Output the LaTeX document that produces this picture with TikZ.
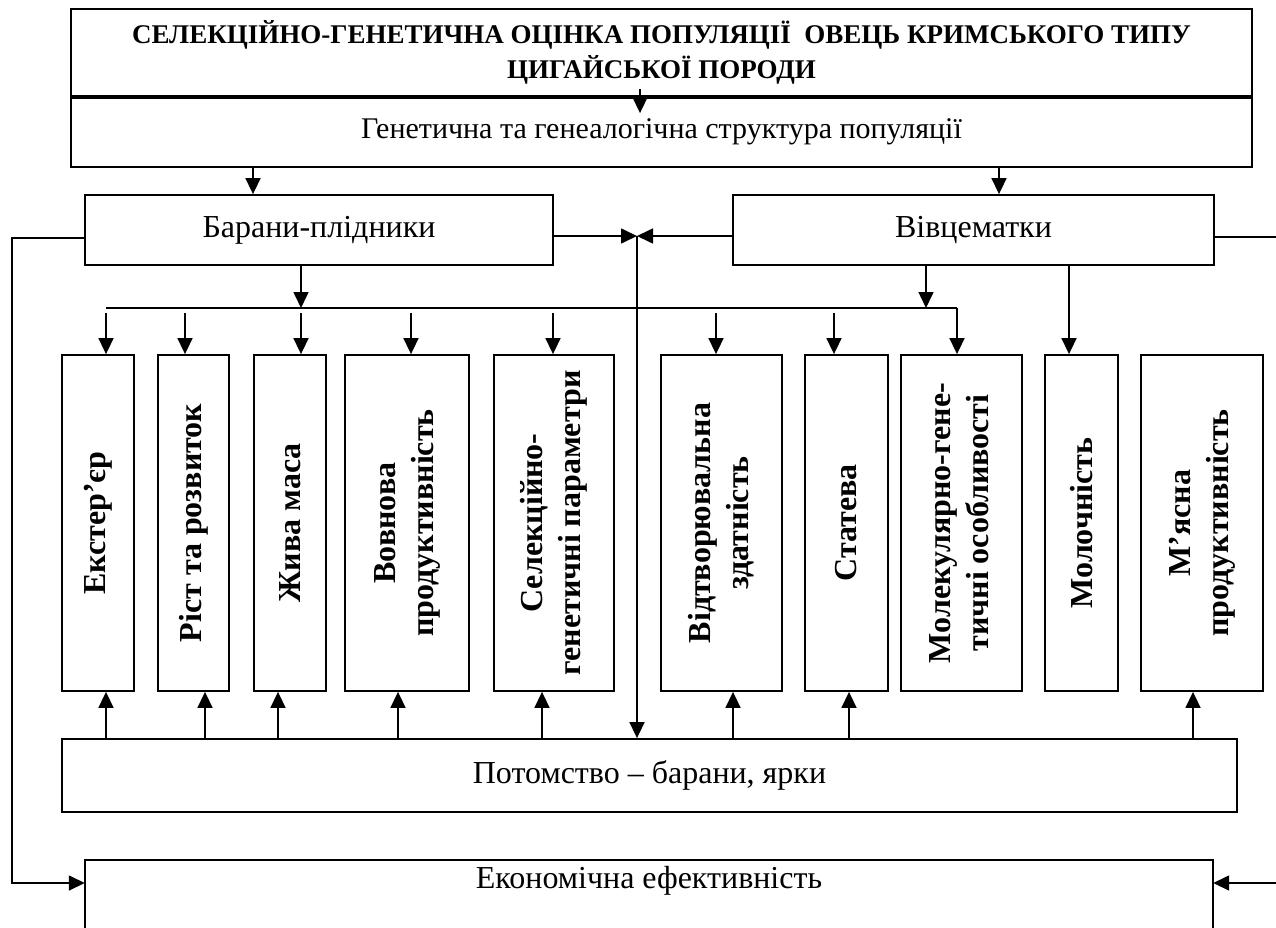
\documentclass[tikz,border=0pt]{standalone}
\usepackage{fontspec}
\setmainfont{Liberation Serif}
\usetikzlibrary{arrows.meta,calc}
\begin{document}
\begin{tikzpicture}[x=1pt,y=-1pt,
  box/.style={draw, line width=1.8pt, inner sep=0pt, align=center},
  conn/.style={line width=1.6pt},
  arr/.style={conn, -{Triangle[length=16pt,width=15pt]}},
  reg/.style={font=\fontsize{32}{36}\selectfont},
  vt/.style={box, minimum height=336pt, font=\fontsize{32}{38}\selectfont\bfseries}]
\clip (0,0) rectangle (1276,928);
% top block
\node[box, minimum width=1181pt, minimum height=87pt, font=\fontsize{27}{35}\selectfont\bfseries] (title) at (661.5,52.5)
  {СЕЛЕКЦІЙНО-ГЕНЕТИЧНА ОЦІНКА ПОПУЛЯЦІЇ\ \ ОВЕЦЬ КРИМСЬКОГО ТИПУ\\ЦИГАЙСЬКОЇ ПОРОДИ};
\node[box, minimum width=1181pt, minimum height=71pt, font=\fontsize{30}{34}\selectfont] (gen) at (661.5,131.5)
  {Генетична та генеалогічна структура популяції};
\draw[line width=4pt] (title.south west) -- (title.south east);
% parents
\node[box, minimum width=468pt, minimum height=70pt, reg] (bar) at (319,230) {Барани-плідники};
\node[box, minimum width=481pt, minimum height=70pt, reg] (viv) at (973.5,230) {Вівцематки};
% vertical boxes
\node[vt, minimum width=72pt] (ext) at (98,523) {\rotatebox{90}{Екстер’єр}};
\node[vt, minimum width=71pt] (rist) at (193.5,523) {\rotatebox{90}{Ріст та розвиток}};
\node[vt, minimum width=72pt] (zhyva) at (290,523) {\rotatebox{90}{Жива маса}};
\node[vt, minimum width=124pt] (vovn) at (407,523) {\rotatebox{90}{\begin{tabular}{@{}c@{}}Вовнова\\продуктивність\end{tabular}}};
\node[vt, minimum width=120pt] (sel) at (554,523) {\rotatebox{90}{\begin{tabular}{@{}c@{}}Селекційно-\\генетичні параметри\end{tabular}}};
\node[vt, minimum width=121pt] (vidt) at (721.5,523) {\rotatebox{90}{\begin{tabular}{@{}c@{}}Відтворювальна\\здатність\end{tabular}}};
\node[vt, minimum width=83pt] (stat) at (846.5,523) {\rotatebox{90}{Статева}};
\node[vt, minimum width=121pt] (mol) at (961.5,523) {\rotatebox{90}{\begin{tabular}{@{}c@{}}Молекулярно-гене-\\тичні особливості\end{tabular}}};
\node[vt, minimum width=73pt] (moloch) at (1081.5,523) {\rotatebox{90}{Молочність}};
\node[vt, minimum width=122pt] (myas) at (1202,523) {\rotatebox{90}{\begin{tabular}{@{}c@{}}М’ясна\\продуктивність\end{tabular}}};
% offspring and economy
\node[box, minimum width=1175pt, minimum height=73pt, reg] (pot) at (649.5,775.5) {Потомство – барани, ярки};
\node[inner sep=0pt, minimum width=1128pt, minimum height=42pt, reg] (eco) at (649,881) {Економічна ефективність};
\draw[line width=1.8pt] ([yshift=-80pt]eco.south west) |- (eco.north east) -- ([yshift=-80pt]eco.south east);
% connectors
\draw[arr] ($(title.south)+(-21.5,-8)$) -- ($(gen.north)+(-21.5,18)$);
\draw[arr] (gen.south -| 253,0) -- (bar.north -| 253,0);
\draw[arr] (gen.south -| 999,0) -- (viv.north -| 999,0);
\coordinate (hub) at (637,236);
\draw[arr] (bar.east |- hub) -- (hub);
\draw[arr] (viv.west |- hub) -- (hub);
\draw[arr] (hub) -- (hub |- pot.north);
\draw[arr] (bar.west |- 0,238) -- (12,238) -- (12,883) -- (eco.west |- 0,883);
\draw[conn] (viv.east |- 0,237) -- (1280,237);
\coordinate (rin) at (1280,883);
\draw[arr] (rin) -- (eco.east |- rin);
% bus
\coordinate (busL) at (106,308);
\coordinate (busR) at (957,308);
\draw[arr] (bar.south -| 301,0) -- (301,308);
\draw[arr] (viv.south -| 926,0) -- (926,308);
\draw[conn] (busL) -- (busR);
\draw[arr] (busR) -- (busR |- mol.north);
\foreach \x/\n in {106/ext,185/rist,301/zhyva,411/vovn,553/sel,716/vidt,834/stat}
  \draw[arr] (\x,313) -- (\n.north -| \x,0);
\draw[arr] (viv.south -| 1069,0) -- (moloch.north -| 1069,0);
\foreach \x/\n in {106/ext,205/rist,278/zhyva,398/vovn,542/sel,733/vidt,849/stat,1193/myas}
  \draw[arr] (pot.north -| \x,0) -- (\n.south -| \x,0);
\end{tikzpicture}
\end{document}
